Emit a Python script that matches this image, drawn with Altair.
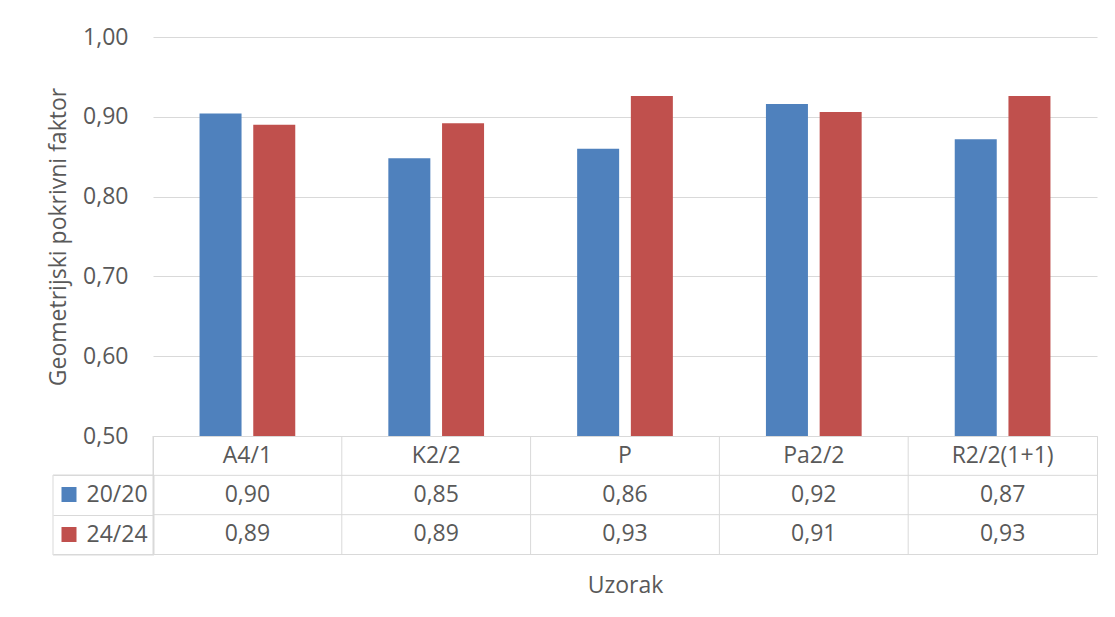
import altair as alt
import pandas as pd

categories = ["A4/1", "K2/2", "P", "Pa2/2", "R2/2(1+1)"]
series = ["20/20", "24/24"]
values_2020 = [0.904, 0.848, 0.860, 0.916, 0.872]
values_2424 = [0.890, 0.892, 0.926, 0.906, 0.926]
y_ticks = [0.5, 0.6, 0.7, 0.8, 0.9, 1.0]
colors = ["#4F81BD", "#C0504D"]
table_rows = ["hdr"] + series

FONT = "Open Sans"
GRAY = "#595959"
GRID = "#d9d9d9"
FS = 23
W = 944
H_PLOT = 399
H_TABLE = 118

bar_rows = []
for c, v1, v2 in zip(categories, values_2020, values_2424):
    bar_rows.append({"Uzorak": c, "serija": series[0], "value": v1})
    bar_rows.append({"Uzorak": c, "serija": series[1], "value": v2})
df = pd.DataFrame(bar_rows)

tab = [{"Uzorak": c, "row": "hdr", "label": c} for c in categories]
for r in bar_rows:
    tab.append({"Uzorak": r["Uzorak"], "row": r["serija"],
                "label": format(r["value"], ".2f").replace(".", ",")})
df_tab = pd.DataFrame(tab)
df_cols = pd.DataFrame({"Uzorak": categories})
df_rows = pd.DataFrame({"row": series})

bars = alt.Chart(df).mark_bar(clip=True).encode(
    x=alt.X("Uzorak:N", sort=categories,
            scale=alt.Scale(domain=categories, paddingInner=0.493, paddingOuter=0.2465),
            axis=None),
    xOffset=alt.XOffset("serija:N",
                        scale=alt.Scale(domain=series, paddingInner=0.218, paddingOuter=0)),
    y=alt.Y("value:Q",
            scale=alt.Scale(domain=[0.5, 1.0], nice=False, zero=False),
            axis=alt.Axis(values=y_ticks,
                          labelExpr="replace(format(datum.value, '.2f'), '.', ',')",
                          title="Geometrijski pokrivni faktor",
                          grid=True, gridColor=GRID, gridWidth=1,
                          domain=False, ticks=False,
                          labelFontSize=FS, labelColor=GRAY, labelPadding=25,
                          titleFontSize=FS, titleColor=GRAY, titleFontWeight="normal",
                          titlePadding=12)),
    color=alt.Color("serija:N", scale=alt.Scale(domain=series, range=colors),
                    legend=alt.Legend(orient="none", legendX=-100.5, legendY=38.5 + H_PLOT,
                                      title=None, direction="vertical",
                                      symbolType="square", symbolSize=225,
                                      symbolStrokeWidth=0, labelFontSize=FS,
                                      labelColor=GRAY, labelOffset=6, rowPadding=10,
                                      clipHeight=30, columnPadding=0, padding=5,
                                      strokeColor=GRID)),
).properties(width=W, height=H_PLOT)

x_tab = alt.Scale(domain=categories, paddingInner=0, paddingOuter=0)
y_tab = alt.Scale(domain=table_rows, paddingInner=0, paddingOuter=0)

table_text = alt.Chart(df_tab).mark_text(fontSize=FS, color=GRAY, baseline="middle",
                                         align="center").encode(
    x=alt.X("Uzorak:N", sort=categories, scale=x_tab,
            axis=alt.Axis(labels=False, ticks=False, domain=False, grid=False,
                          title="Uzorak", titleFontSize=FS, titleColor=GRAY,
                          titleFontWeight="normal", titlePadding=20)),
    y=alt.Y("row:N", sort=table_rows, scale=y_tab,
            axis=alt.Axis(values=series, tickBand="extent", grid=False, ticks=True,
                          tickSize=100, tickColor=GRID, tickWidth=1, labels=False,
                          domain=False, title=None)),
    text="label:N",
)

col_lines = alt.Chart(df_cols).mark_rule(color=GRID, strokeWidth=1).encode(
    x=alt.X("Uzorak:N", sort=categories, scale=x_tab, bandPosition=0),
)
row_lines = alt.Chart(df_rows).mark_rule(color=GRID, strokeWidth=1).encode(
    y=alt.Y("row:N", sort=table_rows, scale=y_tab, bandPosition=0),
)

table = alt.layer(col_lines, row_lines, table_text).properties(
    width=W, height=H_TABLE,
    view=alt.ViewBackground(stroke=GRID, strokeWidth=1))

chart = alt.vconcat(bars, table, spacing=0, bounds="flush").properties(
    padding={"left": 39, "top": 18, "right": 5, "bottom": 5}
).configure(font=FONT).configure_view(strokeWidth=0)

chart.save("out.html", embed_options={"renderer": "svg", "actions": False})
